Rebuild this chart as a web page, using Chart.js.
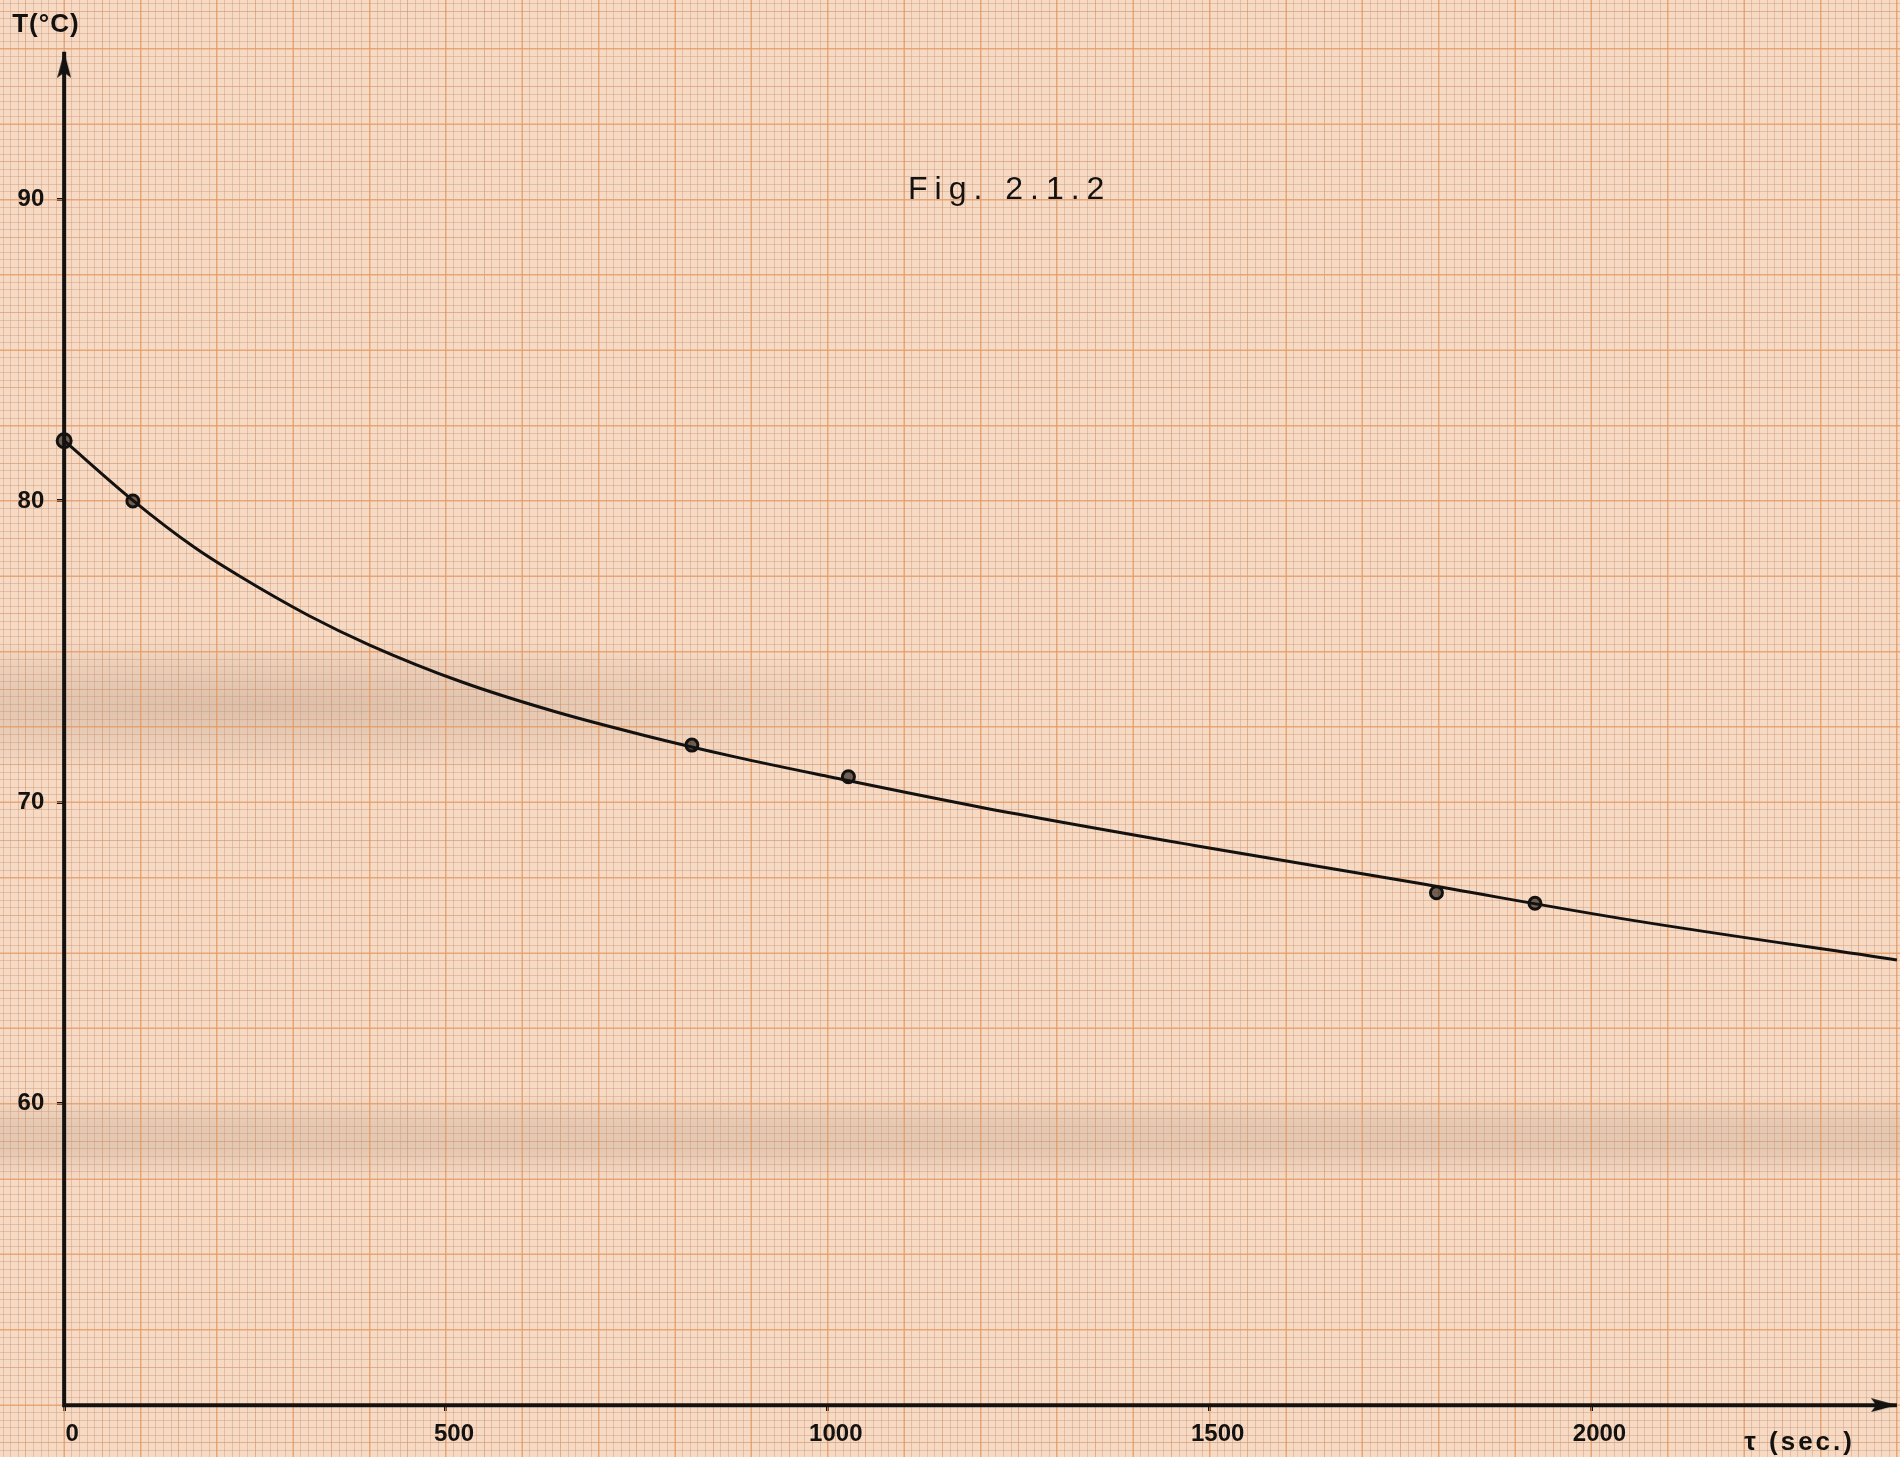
<!DOCTYPE html>
<html>
<head>
<meta charset="utf-8">
<title>Fig. 2.1.2</title>
<script src="https://cdn.jsdelivr.net/npm/chart.js@4.4.1/dist/chart.umd.min.js"></script>
<style>
  html, body { margin: 0; padding: 0; background: #f6dbc2; }
  #paper {
    display: block;
    background:
      radial-gradient(ellipse 760px 70px at 260px 705px, rgba(120, 85, 65, 0.20), rgba(120, 85, 65, 0)),
      linear-gradient(to bottom, rgba(110, 80, 60, 0) 1095px, rgba(110, 80, 60, 0.13) 1125px,
                      rgba(110, 80, 60, 0.13) 1150px, rgba(110, 80, 60, 0) 1180px),
      #f6dac4;
  }
</style>
</head>
<body>
<canvas id="paper" width="1900" height="1457"></canvas>
<script>
// readings (time in s, temperature in deg C)
const timeSec = [0, 90, 822, 1027, 1797, 1926];
const tempC = [82.0, 80.0, 71.9, 70.85, 67.0, 66.65];

const curveTime = [0, 90, 170, 230, 320, 400, 520, 640, 760, 880, 1000, 1200, 1480, 1770, 2050, 2400];
const curveTemp = [82.0, 80.02, 78.47, 77.5, 76.2, 75.22, 74.0, 73.03, 72.22, 71.5, 70.86, 69.84, 68.57, 67.33, 66.1, 64.77];

const xTickLabels = [0, 500, 1000, 1500, 2000];
const yTickLabels = [60, 70, 80, 90];

// sheet extent in data units, the chart area is the whole sheet
const X_MIN = -84, X_MAX = 2404;
const Y_MIN = 48.28, Y_MAX = 96.62;
const X_AXIS_END = 2400, Y_AXIS_TOP = 94.9, Y_AXIS_BASE = 50;
const Y_LABEL_AT = -26;

const ink = '#141210';
const handFont = '"Liberation Sans", Arial, sans-serif';

const notes = [
  {text: 'T(°C)', x: -68, y: 95.8, font: 'bold 26px ' + handFont, spacing: '1px'},
  {text: 'Fig. 2.1.2', x: 1105, y: 90.3, font: '32px ' + handFont, spacing: '7px'},
  {text: 'τ (sec.)', x: 2200, y: 48.75, font: 'bold 26px ' + handFont, spacing: '3px'}
];

// arrow head, tip at the centre of the image so it sits on the point
function makeArrow(len, wid) {
  const c = document.createElement('canvas');
  c.width = wid;
  c.height = len * 2;
  const g = c.getContext('2d');
  g.fillStyle = ink;
  g.beginPath();
  g.moveTo(wid / 2, len);
  g.lineTo(wid, len * 2);
  g.lineTo(wid / 2, len * 1.8);
  g.lineTo(0, len * 2);
  g.closePath();
  g.fill();
  return c;
}
const arrow = makeArrow(26, 14);

function gridAxis(axis, step, color, width, z) {
  return {
    type: 'linear',
    axis: axis,
    position: axis === 'x' ? 'bottom' : 'left',
    min: axis === 'x' ? X_MIN : Y_MIN,
    max: axis === 'x' ? X_MAX : Y_MAX,
    display: true,
    z: z,
    ticks: {display: false, stepSize: step, includeBounds: false},
    grid: {color: color, lineWidth: width, drawTicks: false},
    border: {display: false}
  };
}

function noPadding(scale) {
  scale.paddingTop = 0;
  scale.paddingBottom = 0;
  scale.paddingLeft = 0;
  scale.paddingRight = 0;
}

const notePlugin = {
  id: 'notes',
  afterDraw(chart) {
    const {ctx, scales} = chart;
    ctx.save();
    ctx.fillStyle = ink;
    ctx.textBaseline = 'middle';
    notes.forEach(n => {
      ctx.font = n.font;
      ctx.letterSpacing = n.spacing;
      ctx.fillText(n.text, scales.x.getPixelForValue(n.x), scales.y.getPixelForValue(n.y));
    });
    ctx.restore();
  }
};

new Chart(document.getElementById('paper'), {
  type: 'line',
  data: {
    datasets: [
      {
        label: 'axes',
        data: [{x: 0, y: Y_AXIS_TOP}, {x: 0, y: Y_AXIS_BASE}, {x: X_AXIS_END, y: Y_AXIS_BASE}],
        xAxisID: 'x',
        yAxisID: 'y',
        borderColor: ink,
        borderWidth: 4,
        tension: 0,
        pointStyle: [arrow, false, arrow],
        pointRotation: [0, 0, 90],
        pointRadius: [6, 0, 6],
        clip: false
      },
      {
        label: 'curve',
        data: curveTime.map((t, i) => ({x: t, y: curveTemp[i]})),
        xAxisID: 'x',
        yAxisID: 'y',
        borderColor: ink,
        borderWidth: 3,
        pointRadius: 0,
        cubicInterpolationMode: 'monotone'
      },
      {
        label: 'readings',
        data: timeSec.map((t, i) => ({x: t, y: tempC[i]})),
        xAxisID: 'x',
        yAxisID: 'y',
        showLine: false,
        pointRadius: [7, 6, 6, 6, 6, 6],
        pointBorderWidth: 3,
        pointBorderColor: ink,
        pointBackgroundColor: 'rgba(25, 18, 12, 0.6)'
      }
    ]
  },
  options: {
    responsive: false,
    animation: false,
    events: [],
    layout: {padding: 0, autoPadding: false},
    plugins: {legend: {display: false}, tooltip: {enabled: false}},
    scales: {
      x: {
        type: 'linear',
        position: {y: Y_AXIS_BASE},
        min: X_MIN,
        max: X_MAX,
        afterFit: noPadding,
        // stepSize 500 gets stretched to fit min/max, so set the ticks here
        afterBuildTicks: scale => { scale.ticks = xTickLabels.map(v => ({value: v})); },
        ticks: {
          autoSkip: false,
          padding: 9,
          labelOffset: 8,
          maxRotation: 0,
          color: ink,
          font: {family: handFont, size: 24, weight: 'bold'},
          callback: v => String(v)
        },
        grid: {drawOnChartArea: false, drawTicks: true, tickLength: 6, color: ink, lineWidth: 3},
        border: {display: false}
      },
      y: {
        type: 'linear',
        position: {x: Y_LABEL_AT},
        min: Y_MIN,
        max: Y_MAX,
        afterFit: noPadding,
        afterBuildTicks: scale => { scale.ticks = yTickLabels.map(v => ({value: v})); },
        ticks: {
          autoSkip: false,
          padding: 0,
          color: ink,
          font: {family: handFont, size: 24, weight: 'bold'},
          callback: v => String(v)
        },
        grid: {drawOnChartArea: false, drawTicks: false},
        border: {display: false}
      },
      yMarks: {
        type: 'linear',
        axis: 'y',
        position: {x: 0},
        min: Y_MIN,
        max: Y_MAX,
        afterFit: noPadding,
        afterBuildTicks: scale => { scale.ticks = yTickLabels.map(v => ({value: v})); },
        ticks: {display: false},
        grid: {drawOnChartArea: false, drawTicks: true, tickLength: 7, color: ink, lineWidth: 3},
        border: {display: false}
      },
      gx1: gridAxis('x', 10, 'rgba(200, 145, 118, 0.40)', 1, -3),
      gx2: gridAxis('x', 50, 'rgba(210, 142, 100, 0.32)', 1, -2),
      gx3: gridAxis('x', 100, 'rgba(236, 160, 100, 0.45)', 2, -1),
      gy1: gridAxis('y', 0.25, 'rgba(200, 145, 118, 0.40)', 1, -3),
      gy2: gridAxis('y', 1.25, 'rgba(210, 142, 100, 0.32)', 1, -2),
      gy3: gridAxis('y', 2.5, 'rgba(236, 160, 100, 0.45)', 2, -1)
    }
  },
  plugins: [notePlugin]
});
</script>
</body>
</html>
